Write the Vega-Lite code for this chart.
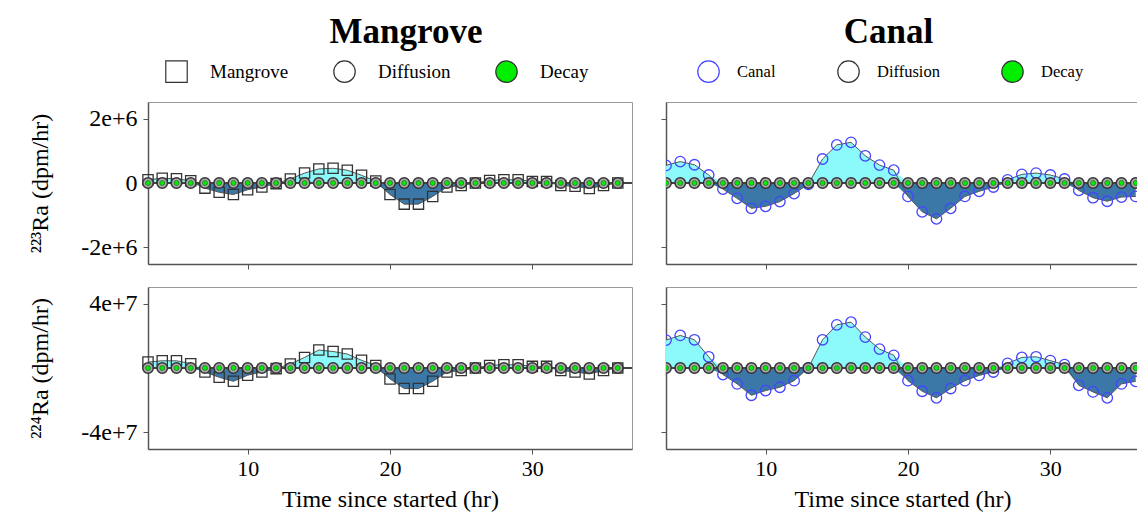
{
"$schema": "https://vega.github.io/schema/vega-lite/v6.json",
"background": "white",
"padding": {"left": 28, "top": 14, "right": 0, "bottom": 0},
"config": {
 "font": "Liberation Serif",
 "view": {"stroke": "#999", "strokeWidth": 1},
 "axis": {"labelFont": "Liberation Serif", "titleFont": "Liberation Serif", "labelColor": "black", "titleColor": "black", "labelFontSize": 22, "titleFontSize": 24, "titleFontWeight": "normal", "tickColor": "#555", "domainColor": "#555", "domainWidth": 1.5, "tickSize": 5, "grid": false},
 "axisY": {"labelFontSize": 24},
 "title": {"font": "Liberation Serif", "fontSize": 35, "fontWeight": "bold", "color": "black", "offset": 10}
},
"datasets": {
 "m1": [
  {"t":3,"v":100000,"p":100000,"n":0,"d":0,"k":0},
  {"t":4,"v":150000,"p":150000,"n":0,"d":0,"k":0},
  {"t":5,"v":130000,"p":130000,"n":0,"d":0,"k":0},
  {"t":6,"v":70000,"p":70000,"n":0,"d":0,"k":0},
  {"t":7,"v":-160000,"p":0,"n":-160000,"d":0,"k":0},
  {"t":8,"v":-290000,"p":0,"n":-290000,"d":0,"k":0},
  {"t":9,"v":-360000,"p":0,"n":-360000,"d":0,"k":0},
  {"t":10,"v":-210000,"p":0,"n":-210000,"d":0,"k":0},
  {"t":11,"v":-125000,"p":0,"n":-125000,"d":0,"k":0},
  {"t":12,"v":-20000,"p":0,"n":-20000,"d":0,"k":0},
  {"t":13,"v":125000,"p":125000,"n":0,"d":0,"k":0},
  {"t":14,"v":310000,"p":310000,"n":0,"d":0,"k":0},
  {"t":15,"v":440000,"p":440000,"n":0,"d":0,"k":0},
  {"t":16,"v":460000,"p":460000,"n":0,"d":0,"k":0},
  {"t":17,"v":400000,"p":400000,"n":0,"d":0,"k":0},
  {"t":18,"v":240000,"p":240000,"n":0,"d":0,"k":0},
  {"t":19,"v":60000,"p":60000,"n":0,"d":0,"k":0},
  {"t":20,"v":-360000,"p":0,"n":-360000,"d":0,"k":0},
  {"t":21,"v":-660000,"p":0,"n":-660000,"d":0,"k":0},
  {"t":22,"v":-660000,"p":0,"n":-660000,"d":0,"k":0},
  {"t":23,"v":-420000,"p":0,"n":-420000,"d":0,"k":0},
  {"t":24,"v":-125000,"p":0,"n":-125000,"d":0,"k":0},
  {"t":25,"v":-80000,"p":0,"n":-80000,"d":0,"k":0},
  {"t":26,"v":0,"p":0,"n":0,"d":0,"k":0},
  {"t":27,"v":80000,"p":80000,"n":0,"d":0,"k":0},
  {"t":28,"v":100000,"p":100000,"n":0,"d":0,"k":0},
  {"t":29,"v":100000,"p":100000,"n":0,"d":0,"k":0},
  {"t":30,"v":50000,"p":50000,"n":0,"d":0,"k":0},
  {"t":31,"v":50000,"p":50000,"n":0,"d":0,"k":0},
  {"t":32,"v":-80000,"p":0,"n":-80000,"d":0,"k":0},
  {"t":33,"v":-100000,"p":0,"n":-100000,"d":0,"k":0},
  {"t":34,"v":-170000,"p":0,"n":-170000,"d":0,"k":0},
  {"t":35,"v":-80000,"p":0,"n":-80000,"d":0,"k":0},
  {"t":36,"v":0,"p":0,"n":0,"d":0,"k":0}
 ],
 "m2": [
  {"t":3,"v":3700000,"p":3700000,"n":0,"d":0,"k":0},
  {"t":4,"v":4500000,"p":4500000,"n":0,"d":0,"k":0},
  {"t":5,"v":4500000,"p":4500000,"n":0,"d":0,"k":0},
  {"t":6,"v":2700000,"p":2700000,"n":0,"d":0,"k":0},
  {"t":7,"v":-2500000,"p":0,"n":-2500000,"d":0,"k":0},
  {"t":8,"v":-5800000,"p":0,"n":-5800000,"d":0,"k":0},
  {"t":9,"v":-8300000,"p":0,"n":-8300000,"d":0,"k":0},
  {"t":10,"v":-4500000,"p":0,"n":-4500000,"d":0,"k":0},
  {"t":11,"v":-2500000,"p":0,"n":-2500000,"d":0,"k":0},
  {"t":12,"v":-400000,"p":0,"n":-400000,"d":0,"k":0},
  {"t":13,"v":2500000,"p":2500000,"n":0,"d":0,"k":0},
  {"t":14,"v":6600000,"p":6600000,"n":0,"d":0,"k":0},
  {"t":15,"v":11200000,"p":11200000,"n":0,"d":0,"k":0},
  {"t":16,"v":10300000,"p":10300000,"n":0,"d":0,"k":0},
  {"t":17,"v":8700000,"p":8700000,"n":0,"d":0,"k":0},
  {"t":18,"v":4800000,"p":4800000,"n":0,"d":0,"k":0},
  {"t":19,"v":1600000,"p":1600000,"n":0,"d":0,"k":0},
  {"t":20,"v":-6800000,"p":0,"n":-6800000,"d":0,"k":0},
  {"t":21,"v":-12800000,"p":0,"n":-12800000,"d":0,"k":0},
  {"t":22,"v":-12800000,"p":0,"n":-12800000,"d":0,"k":0},
  {"t":23,"v":-8300000,"p":0,"n":-8300000,"d":0,"k":0},
  {"t":24,"v":-2500000,"p":0,"n":-2500000,"d":0,"k":0},
  {"t":25,"v":-1600000,"p":0,"n":-1600000,"d":0,"k":0},
  {"t":26,"v":0,"p":0,"n":0,"d":0,"k":0},
  {"t":27,"v":1600000,"p":1600000,"n":0,"d":0,"k":0},
  {"t":28,"v":2000000,"p":2000000,"n":0,"d":0,"k":0},
  {"t":29,"v":2000000,"p":2000000,"n":0,"d":0,"k":0},
  {"t":30,"v":1000000,"p":1000000,"n":0,"d":0,"k":0},
  {"t":31,"v":1000000,"p":1000000,"n":0,"d":0,"k":0},
  {"t":32,"v":-1600000,"p":0,"n":-1600000,"d":0,"k":0},
  {"t":33,"v":-2500000,"p":0,"n":-2500000,"d":0,"k":0},
  {"t":34,"v":-3700000,"p":0,"n":-3700000,"d":0,"k":0},
  {"t":35,"v":-1600000,"p":0,"n":-1600000,"d":0,"k":0},
  {"t":36,"v":0,"p":0,"n":0,"d":0,"k":0}
 ],
 "c1": [
  {"t":3,"v":550000,"p":550000,"n":0,"d":0,"k":0},
  {"t":4,"v":670000,"p":670000,"n":0,"d":0,"k":0},
  {"t":5,"v":570000,"p":570000,"n":0,"d":0,"k":0},
  {"t":6,"v":250000,"p":250000,"n":0,"d":0,"k":0},
  {"t":7,"v":-190000,"p":0,"n":-190000,"d":0,"k":0},
  {"t":8,"v":-480000,"p":0,"n":-480000,"d":0,"k":0},
  {"t":9,"v":-790000,"p":0,"n":-790000,"d":0,"k":0},
  {"t":10,"v":-730000,"p":0,"n":-730000,"d":0,"k":0},
  {"t":11,"v":-580000,"p":0,"n":-580000,"d":0,"k":0},
  {"t":12,"v":-330000,"p":0,"n":-330000,"d":0,"k":0},
  {"t":13,"v":-40000,"p":0,"n":-40000,"d":0,"k":0},
  {"t":14,"v":750000,"p":750000,"n":0,"d":0,"k":0},
  {"t":15,"v":1190000,"p":1190000,"n":0,"d":0,"k":0},
  {"t":16,"v":1270000,"p":1270000,"n":0,"d":0,"k":0},
  {"t":17,"v":850000,"p":850000,"n":0,"d":0,"k":0},
  {"t":18,"v":560000,"p":560000,"n":0,"d":0,"k":0},
  {"t":19,"v":400000,"p":400000,"n":0,"d":0,"k":0},
  {"t":20,"v":-420000,"p":0,"n":-420000,"d":0,"k":0},
  {"t":21,"v":-900000,"p":0,"n":-900000,"d":0,"k":0},
  {"t":22,"v":-1120000,"p":0,"n":-1120000,"d":0,"k":0},
  {"t":23,"v":-790000,"p":0,"n":-790000,"d":0,"k":0},
  {"t":24,"v":-420000,"p":0,"n":-420000,"d":0,"k":0},
  {"t":25,"v":-260000,"p":0,"n":-260000,"d":0,"k":0},
  {"t":26,"v":-125000,"p":0,"n":-125000,"d":0,"k":0},
  {"t":27,"v":100000,"p":100000,"n":0,"d":0,"k":0},
  {"t":28,"v":270000,"p":270000,"n":0,"d":0,"k":0},
  {"t":29,"v":310000,"p":310000,"n":0,"d":0,"k":0},
  {"t":30,"v":250000,"p":250000,"n":0,"d":0,"k":0},
  {"t":31,"v":125000,"p":125000,"n":0,"d":0,"k":0},
  {"t":32,"v":-230000,"p":0,"n":-230000,"d":0,"k":0},
  {"t":33,"v":-460000,"p":0,"n":-460000,"d":0,"k":0},
  {"t":34,"v":-570000,"p":0,"n":-570000,"d":0,"k":0},
  {"t":35,"v":-440000,"p":0,"n":-440000,"d":0,"k":0},
  {"t":36,"v":-420000,"p":0,"n":-420000,"d":0,"k":0}
 ],
 "c2": [
  {"t":3,"v":17400000,"p":17400000,"n":0,"d":0,"k":0},
  {"t":4,"v":20300000,"p":20300000,"n":0,"d":0,"k":0},
  {"t":5,"v":17600000,"p":17600000,"n":0,"d":0,"k":0},
  {"t":6,"v":7000000,"p":7000000,"n":0,"d":0,"k":0},
  {"t":7,"v":-4100000,"p":0,"n":-4100000,"d":0,"k":0},
  {"t":8,"v":-9900000,"p":0,"n":-9900000,"d":0,"k":0},
  {"t":9,"v":-17000000,"p":0,"n":-17000000,"d":0,"k":0},
  {"t":10,"v":-14100000,"p":0,"n":-14100000,"d":0,"k":0},
  {"t":11,"v":-12000000,"p":0,"n":-12000000,"d":0,"k":0},
  {"t":12,"v":-7900000,"p":0,"n":-7900000,"d":0,"k":0},
  {"t":13,"v":0,"p":0,"n":0,"d":0,"k":0},
  {"t":14,"v":17600000,"p":17600000,"n":0,"d":0,"k":0},
  {"t":15,"v":26900000,"p":26900000,"n":0,"d":0,"k":0},
  {"t":16,"v":28600000,"p":28600000,"n":0,"d":0,"k":0},
  {"t":17,"v":19300000,"p":19300000,"n":0,"d":0,"k":0},
  {"t":18,"v":11800000,"p":11800000,"n":0,"d":0,"k":0},
  {"t":19,"v":7900000,"p":7900000,"n":0,"d":0,"k":0},
  {"t":20,"v":-7900000,"p":0,"n":-7900000,"d":0,"k":0},
  {"t":21,"v":-14500000,"p":0,"n":-14500000,"d":0,"k":0},
  {"t":22,"v":-18600000,"p":0,"n":-18600000,"d":0,"k":0},
  {"t":23,"v":-12800000,"p":0,"n":-12800000,"d":0,"k":0},
  {"t":24,"v":-7900000,"p":0,"n":-7900000,"d":0,"k":0},
  {"t":25,"v":-4600000,"p":0,"n":-4600000,"d":0,"k":0},
  {"t":26,"v":-2500000,"p":0,"n":-2500000,"d":0,"k":0},
  {"t":27,"v":2900000,"p":2900000,"n":0,"d":0,"k":0},
  {"t":28,"v":6600000,"p":6600000,"n":0,"d":0,"k":0},
  {"t":29,"v":7000000,"p":7000000,"n":0,"d":0,"k":0},
  {"t":30,"v":4600000,"p":4600000,"n":0,"d":0,"k":0},
  {"t":31,"v":2100000,"p":2100000,"n":0,"d":0,"k":0},
  {"t":32,"v":-10800000,"p":0,"n":-10800000,"d":0,"k":0},
  {"t":33,"v":-14900000,"p":0,"n":-14900000,"d":0,"k":0},
  {"t":34,"v":-18600000,"p":0,"n":-18600000,"d":0,"k":0},
  {"t":35,"v":-9900000,"p":0,"n":-9900000,"d":0,"k":0},
  {"t":36,"v":-8300000,"p":0,"n":-8300000,"d":0,"k":0}
 ]
},
"columns": 2,
"spacing": {"row": 16, "column": 26},
"resolve": {"scale": {"x": "independent", "y": "independent", "shape": "independent", "stroke": "independent", "fill": "independent"}, "legend": {"shape": "independent", "stroke": "independent", "fill": "independent"}},
"concat": [
 {
  "width": 484, "height": 162,
  "title": {"text": "Mangrove", "frame": "group", "dx": 16},
  "data": {"name": "m1"},
  "layer": [
   {"mark": {"type": "area", "color": "#8CFAFA"}, "encoding": {"x": {"field": "t", "type": "quantitative", "scale": {"domain": [3, 37], "nice": false, "zero": false}, "axis": {"values": [10, 20, 30], "labels": false, "title": null}}, "y": {"field": "p", "type": "quantitative", "scale": {"domain": [-2530000, 2530000], "nice": false}, "axis": {"values": [-2000000, 0, 2000000], "title": "²²³Ra (dpm/hr)", "labelExpr": "datum.value == 0 ? '0' : (datum.value < 0 ? '-' : '') + format(abs(datum.value), '.0e')", "labelPadding": 6, "titlePadding": 28}}, "y2": {"datum": 0}}},
   {"mark": {"type": "area", "color": "#3B78A8"}, "encoding": {"x": {"field": "t", "type": "quantitative"}, "y": {"field": "n", "type": "quantitative"}, "y2": {"datum": 0}}},
   {"mark": {"type": "rule", "color": "#444", "strokeWidth": 1.5}, "encoding": {"y": {"datum": 0}}},
   {"mark": {"type": "line", "color": "#555", "strokeWidth": 1}, "encoding": {"x": {"field": "t", "type": "quantitative"}, "y": {"field": "v", "type": "quantitative"}}},
   {"mark": {"type": "point", "size": 105, "strokeWidth": 1.3, "opacity": 1}, "encoding": {"x": {"field": "t", "type": "quantitative"}, "y": {"field": "v", "type": "quantitative"},
     "shape": {"datum": "Mangrove", "scale": {"domain": ["Mangrove", "Diffusion", "Decay"], "range": ["square", "circle", "circle"]}, "legend": {"title": null, "orient": "none", "legendX": 17, "legendY": -42, "direction": "horizontal", "symbolSize": 460, "symbolStrokeWidth": 1.2, "labelFontSize": 19, "labelFont": "Liberation Serif", "labelColor": "black", "labelOffset": 22, "columnPadding": 42, "padding": 0}},
     "stroke": {"datum": "Mangrove", "scale": {"domain": ["Mangrove", "Diffusion", "Decay"], "range": ["#333333", "#333333", "#333333"]}, "legend": {"title": null, "orient": "none", "legendX": 17, "legendY": -42, "direction": "horizontal", "symbolSize": 460, "symbolStrokeWidth": 1.2, "labelFontSize": 19, "labelFont": "Liberation Serif", "labelColor": "black", "labelOffset": 22, "columnPadding": 42, "padding": 0}},
     "fill": {"datum": "Mangrove", "scale": {"domain": ["Mangrove", "Diffusion", "Decay"], "range": ["transparent", "white", "#00EE00"]}, "legend": {"title": null, "orient": "none", "legendX": 17, "legendY": -42, "direction": "horizontal", "symbolSize": 460, "symbolStrokeWidth": 1.2, "labelFontSize": 19, "labelFont": "Liberation Serif", "labelColor": "black", "labelOffset": 22, "columnPadding": 42, "padding": 0}}}},
   {"mark": {"type": "point", "size": 110, "strokeWidth": 1.5, "opacity": 1, "fill": "#aaaaaa"}, "encoding": {"x": {"field": "t", "type": "quantitative"}, "y": {"field": "d", "type": "quantitative"}, "shape": {"datum": "Diffusion"}, "stroke": {"datum": "Diffusion"}}},
   {"mark": {"type": "point", "size": 25, "strokeWidth": 0.5, "opacity": 1}, "encoding": {"x": {"field": "t", "type": "quantitative"}, "y": {"field": "k", "type": "quantitative"}, "shape": {"datum": "Decay"}, "stroke": {"datum": "Decay"}, "fill": {"datum": "Decay"}}}
  ]
 },
 {
  "width": 473, "height": 162,
  "title": {"text": "Canal", "frame": "group", "dx": -14},
  "data": {"name": "c1"},
  "layer": [
   {"mark": {"type": "area", "color": "#8CFAFA", "clip": true}, "encoding": {"x": {"field": "t", "type": "quantitative", "scale": {"domain": [3, 36.23], "nice": false, "zero": false}, "axis": {"values": [10, 20, 30], "labels": false, "title": null}}, "y": {"field": "p", "type": "quantitative", "scale": {"domain": [-2530000, 2530000], "nice": false}, "axis": {"values": [-2000000, 2000000], "labels": false, "title": null}}, "y2": {"datum": 0}}},
   {"mark": {"type": "area", "color": "#3B78A8", "clip": true}, "encoding": {"x": {"field": "t", "type": "quantitative"}, "y": {"field": "n", "type": "quantitative"}, "y2": {"datum": 0}}},
   {"mark": {"type": "rule", "color": "#444", "strokeWidth": 1.5}, "encoding": {"y": {"datum": 0}}},
   {"mark": {"type": "line", "color": "#555", "strokeWidth": 1, "clip": true}, "encoding": {"x": {"field": "t", "type": "quantitative"}, "y": {"field": "v", "type": "quantitative"}}},
   {"mark": {"type": "point", "size": 110, "strokeWidth": 1.3, "opacity": 1, "clip": true}, "encoding": {"x": {"field": "t", "type": "quantitative"}, "y": {"field": "v", "type": "quantitative"},
     "shape": {"datum": "Canal", "scale": {"domain": ["Canal", "Diffusion", "Decay"], "range": ["circle", "circle", "circle"]}, "legend": {"title": null, "orient": "none", "legendX": 31, "legendY": -42, "direction": "horizontal", "symbolSize": 460, "symbolStrokeWidth": 1.2, "labelFontSize": 16.5, "labelFont": "Liberation Serif", "labelColor": "black", "labelOffset": 17, "columnPadding": 59, "padding": 0}},
     "stroke": {"datum": "Canal", "scale": {"domain": ["Canal", "Diffusion", "Decay"], "range": ["#4444FF", "#333333", "#333333"]}, "legend": {"title": null, "orient": "none", "legendX": 31, "legendY": -42, "direction": "horizontal", "symbolSize": 460, "symbolStrokeWidth": 1.2, "labelFontSize": 16.5, "labelFont": "Liberation Serif", "labelColor": "black", "labelOffset": 17, "columnPadding": 59, "padding": 0}},
     "fill": {"datum": "Canal", "scale": {"domain": ["Canal", "Diffusion", "Decay"], "range": ["transparent", "white", "#00EE00"]}, "legend": {"title": null, "orient": "none", "legendX": 31, "legendY": -42, "direction": "horizontal", "symbolSize": 460, "symbolStrokeWidth": 1.2, "labelFontSize": 16.5, "labelFont": "Liberation Serif", "labelColor": "black", "labelOffset": 17, "columnPadding": 59, "padding": 0}}}},
   {"mark": {"type": "point", "size": 110, "strokeWidth": 1.5, "opacity": 1, "fill": "#aaaaaa", "clip": true}, "encoding": {"x": {"field": "t", "type": "quantitative"}, "y": {"field": "d", "type": "quantitative"}, "shape": {"datum": "Diffusion"}, "stroke": {"datum": "Diffusion"}}},
   {"mark": {"type": "point", "size": 25, "strokeWidth": 0.5, "opacity": 1, "clip": true}, "encoding": {"x": {"field": "t", "type": "quantitative"}, "y": {"field": "k", "type": "quantitative"}, "shape": {"datum": "Decay"}, "stroke": {"datum": "Decay"}, "fill": {"datum": "Decay"}}}
  ]
 },
 {
  "width": 484, "height": 162,
  "data": {"name": "m2"},
  "layer": [
   {"mark": {"type": "area", "color": "#8CFAFA"}, "encoding": {"x": {"field": "t", "type": "quantitative", "scale": {"domain": [3, 37], "nice": false, "zero": false}, "axis": {"values": [10, 20, 30], "title": "Time since started (hr)", "labelPadding": 4, "titlePadding": 8}}, "y": {"field": "p", "type": "quantitative", "scale": {"domain": [-50500000, 50500000], "nice": false}, "axis": {"values": [-40000000, 40000000], "title": "²²⁴Ra (dpm/hr)", "labelExpr": "datum.value == 0 ? '0' : (datum.value < 0 ? '-' : '') + format(abs(datum.value), '.0e')", "labelPadding": 6, "titlePadding": 28}}, "y2": {"datum": 0}}},
   {"mark": {"type": "area", "color": "#3B78A8"}, "encoding": {"x": {"field": "t", "type": "quantitative"}, "y": {"field": "n", "type": "quantitative"}, "y2": {"datum": 0}}},
   {"mark": {"type": "rule", "color": "#444", "strokeWidth": 1.5}, "encoding": {"y": {"datum": 0}}},
   {"mark": {"type": "line", "color": "#555", "strokeWidth": 1}, "encoding": {"x": {"field": "t", "type": "quantitative"}, "y": {"field": "v", "type": "quantitative"}}},
   {"mark": {"type": "point", "shape": "square", "size": 105, "strokeWidth": 1.3, "opacity": 1, "stroke": "#333333", "fill": "transparent"}, "encoding": {"x": {"field": "t", "type": "quantitative"}, "y": {"field": "v", "type": "quantitative"}}},
   {"mark": {"type": "point", "shape": "circle", "size": 110, "strokeWidth": 1.5, "opacity": 1, "stroke": "#333333", "fill": "#aaaaaa"}, "encoding": {"x": {"field": "t", "type": "quantitative"}, "y": {"field": "d", "type": "quantitative"}}},
   {"mark": {"type": "point", "shape": "circle", "size": 25, "strokeWidth": 0.5, "opacity": 1, "stroke": "#333333", "fill": "#00EE00"}, "encoding": {"x": {"field": "t", "type": "quantitative"}, "y": {"field": "k", "type": "quantitative"}}}
  ]
 },
 {
  "width": 473, "height": 162,
  "data": {"name": "c2"},
  "layer": [
   {"mark": {"type": "area", "color": "#8CFAFA", "clip": true}, "encoding": {"x": {"field": "t", "type": "quantitative", "scale": {"domain": [3, 36.23], "nice": false, "zero": false}, "axis": {"values": [10, 20, 30], "title": "Time since started (hr)", "labelPadding": 4, "titlePadding": 8}}, "y": {"field": "p", "type": "quantitative", "scale": {"domain": [-50500000, 50500000], "nice": false}, "axis": {"values": [-40000000, 40000000], "labels": false, "title": null}}, "y2": {"datum": 0}}},
   {"mark": {"type": "area", "color": "#3B78A8", "clip": true}, "encoding": {"x": {"field": "t", "type": "quantitative"}, "y": {"field": "n", "type": "quantitative"}, "y2": {"datum": 0}}},
   {"mark": {"type": "rule", "color": "#444", "strokeWidth": 1.5}, "encoding": {"y": {"datum": 0}}},
   {"mark": {"type": "line", "color": "#555", "strokeWidth": 1, "clip": true}, "encoding": {"x": {"field": "t", "type": "quantitative"}, "y": {"field": "v", "type": "quantitative"}}},
   {"mark": {"type": "point", "shape": "circle", "size": 110, "strokeWidth": 1.3, "opacity": 1, "stroke": "#4444FF", "fill": "transparent", "clip": true}, "encoding": {"x": {"field": "t", "type": "quantitative"}, "y": {"field": "v", "type": "quantitative"}}},
   {"mark": {"type": "point", "shape": "circle", "size": 110, "strokeWidth": 1.5, "opacity": 1, "stroke": "#333333", "fill": "#aaaaaa", "clip": true}, "encoding": {"x": {"field": "t", "type": "quantitative"}, "y": {"field": "d", "type": "quantitative"}}},
   {"mark": {"type": "point", "shape": "circle", "size": 25, "strokeWidth": 0.5, "opacity": 1, "stroke": "#333333", "fill": "#00EE00", "clip": true}, "encoding": {"x": {"field": "t", "type": "quantitative"}, "y": {"field": "k", "type": "quantitative"}}}
  ]
 }
]
}
